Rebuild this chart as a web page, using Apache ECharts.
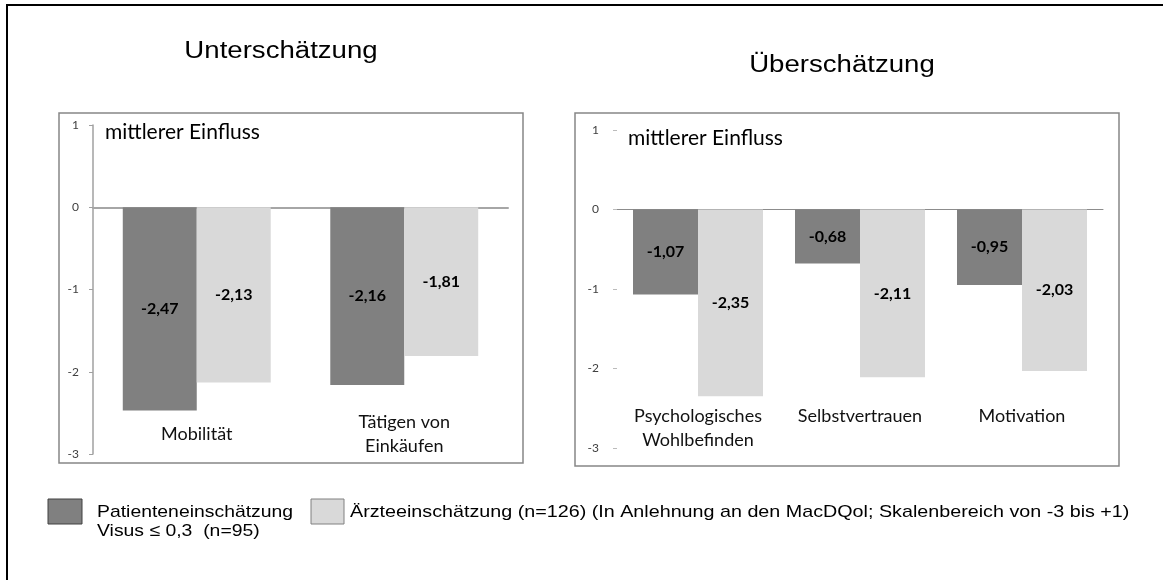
<!DOCTYPE html>
<html>
<head>
<meta charset="utf-8">
<script src="https://cdn.jsdelivr.net/npm/echarts@6/dist/echarts.min.js"></script>
<style>
html,body{margin:0;padding:0;background:#fff;}
#chart{width:1163px;height:580px;}
</style>
</head>
<body>
<div id="chart"></div>
<script>
// ---- data ----
const panelTitles = ['Unterschätzung', 'Überschätzung'];
const axisNote = 'mittlerer Einfluss';
const leftCategories = ['Mobilität', 'Tätigen von\nEinkäufen'];
const leftPatient = [-2.47, -2.16];
const leftAerzte = [-2.13, -1.81];
const rightCategories = ['Psychologisches\nWohlbefinden', 'Selbstvertrauen', 'Motivation'];
const rightPatient = [-1.07, -0.68, -0.95];
const rightAerzte = [-2.35, -2.11, -2.03];
const yMin = -3, yMax = 1, yInterval = 1;
const legendLine1 = 'Patienteneinschätzung';
const legendLine2 = 'Visus ≤ 0,3  (n=95)';
const legendOther = 'Ärzteeinschätzung (n=126) (In Anlehnung an den MacDQol; Skalenbereich von -3 bis +1)';
const seriesNames = ['Patienteneinschätzung', 'Ärzteeinschätzung'];

// ---- styles ----
const DARK = '#808080', LIGHT = '#d9d9d9';
const CF = 'Lato, "Open Sans", sans-serif';
const AF = '"Liberation Sans", Arial, sans-serif';
const fmt = v => v.toFixed(2).replace('.', ',');
const valLabel = {show: true, position: 'inside', fontFamily: CF, fontWeight: 'bold', fontSize: 16, color: '#000',
  formatter: p => fmt(p.value)};

const chart = echarts.init(document.getElementById('chart'), null, {renderer: 'canvas'});
const option = {
  backgroundColor: '#fff',
  animation: false,
  grid: [
    {left: 93, top: 125, width: 415, height: 329},
    {left: 617, top: 130, width: 486, height: 318}
  ],
  xAxis: [
    {type: 'category', gridIndex: 0, data: leftCategories,
     axisLine: {onZero: true, lineStyle: {color: '#a6a6a6', width: 2}},
     axisTick: {show: false}, axisLabel: {show: false}},
    {type: 'category', gridIndex: 0, data: leftCategories, position: 'bottom',
     axisLine: {show: false, onZero: false}, axisTick: {show: false},
     axisLabel: {interval: 0, margin: -20, verticalAlign: 'middle', lineHeight: 24, fontSize: 18, fontFamily: CF, color: '#111'}},
    {type: 'category', gridIndex: 1, data: rightCategories,
     axisLine: {onZero: true, lineStyle: {color: '#8c8c8c', width: 1}},
     axisTick: {show: false}, axisLabel: {show: false}},
    {type: 'category', gridIndex: 1, data: rightCategories, position: 'bottom',
     axisLine: {show: false, onZero: false}, axisTick: {show: false},
     axisLabel: {interval: 0, hideOverlap: false, margin: -44, verticalAlign: 'top', lineHeight: 24, fontSize: 18, fontFamily: CF, color: '#111'}}
  ],
  yAxis: [
    {type: 'value', gridIndex: 0, min: yMin, max: yMax, interval: yInterval,
     axisLine: {show: true, lineStyle: {color: '#a0a0a0', width: 1.5}},
     axisTick: {show: true, length: 4, lineStyle: {color: '#a0a0a0'}},
     axisLabel: {margin: 14, fontSize: 12, color: '#404040', fontFamily: CF},
     splitLine: {show: false}},
    {type: 'value', gridIndex: 1, min: yMin, max: yMax, interval: yInterval,
     axisLine: {show: false},
     axisTick: {show: true, length: 4, lineStyle: {color: '#bbbbbb'}},
     axisLabel: {margin: 18, fontSize: 12, color: '#404040', fontFamily: CF},
     splitLine: {show: false}}
  ],
  series: [
    {name: seriesNames[0], type: 'bar', xAxisIndex: 0, yAxisIndex: 0, data: leftPatient,
     itemStyle: {color: DARK}, barGap: '0%', barCategoryGap: '28.7%', label: valLabel},
    {name: seriesNames[1], type: 'bar', xAxisIndex: 0, yAxisIndex: 0, data: leftAerzte,
     itemStyle: {color: LIGHT}, label: valLabel},
    {name: seriesNames[0], type: 'bar', xAxisIndex: 2, yAxisIndex: 1, data: rightPatient,
     itemStyle: {color: DARK}, barGap: '0%', barCategoryGap: '19.75%', label: valLabel},
    {name: seriesNames[1], type: 'bar', xAxisIndex: 2, yAxisIndex: 1, data: rightAerzte,
     itemStyle: {color: LIGHT}, label: valLabel}
  ],
  graphic: [
    {type: 'rect', shape: {x: 7, y: 5, width: 1200, height: 640}, style: {fill: 'none', stroke: '#000', lineWidth: 2}, silent: true},
    {type: 'rect', shape: {x: 59, y: 113, width: 464, height: 350}, style: {fill: 'none', stroke: '#868686', lineWidth: 1.5}, silent: true},
    {type: 'rect', shape: {x: 575, y: 113, width: 544, height: 353}, style: {fill: 'none', stroke: '#868686', lineWidth: 1.5}, silent: true},
    {type: 'text', x: 281, y: 52, scaleX: 1.2, style: {text: panelTitles[0], font: '23px ' + AF, fill: '#000', align: 'center', verticalAlign: 'middle'}},
    {type: 'text', x: 842, y: 66, scaleX: 1.2, style: {text: panelTitles[1], font: '23px ' + AF, fill: '#000', align: 'center', verticalAlign: 'middle'}},
    {type: 'text', x: 105, y: 132, style: {text: axisNote, font: '21px ' + CF, fill: '#000', align: 'left', verticalAlign: 'middle'}},
    {type: 'text', x: 628, y: 138, style: {text: axisNote, font: '21px ' + CF, fill: '#000', align: 'left', verticalAlign: 'middle'}},
    {type: 'rect', shape: {x: 48, y: 499, width: 34, height: 25}, style: {fill: DARK, stroke: '#404040', lineWidth: 1}},
    {type: 'rect', shape: {x: 311, y: 499, width: 33, height: 25}, style: {fill: LIGHT, stroke: '#808080', lineWidth: 1}},
    {type: 'text', x: 97, y: 512, scaleX: 1.14, style: {text: legendLine1, font: '17px ' + AF, fill: '#000', align: 'left', verticalAlign: 'middle'}},
    {type: 'text', x: 97, y: 531, scaleX: 1.14, style: {text: legendLine2, font: '17px ' + AF, fill: '#000', align: 'left', verticalAlign: 'middle'}},
    {type: 'text', x: 350, y: 512, scaleX: 1.16, style: {text: legendOther, font: '17px ' + AF, fill: '#000', align: 'left', verticalAlign: 'middle'}}
  ]
};
chart.setOption(option);
</script>
</body>
</html>
